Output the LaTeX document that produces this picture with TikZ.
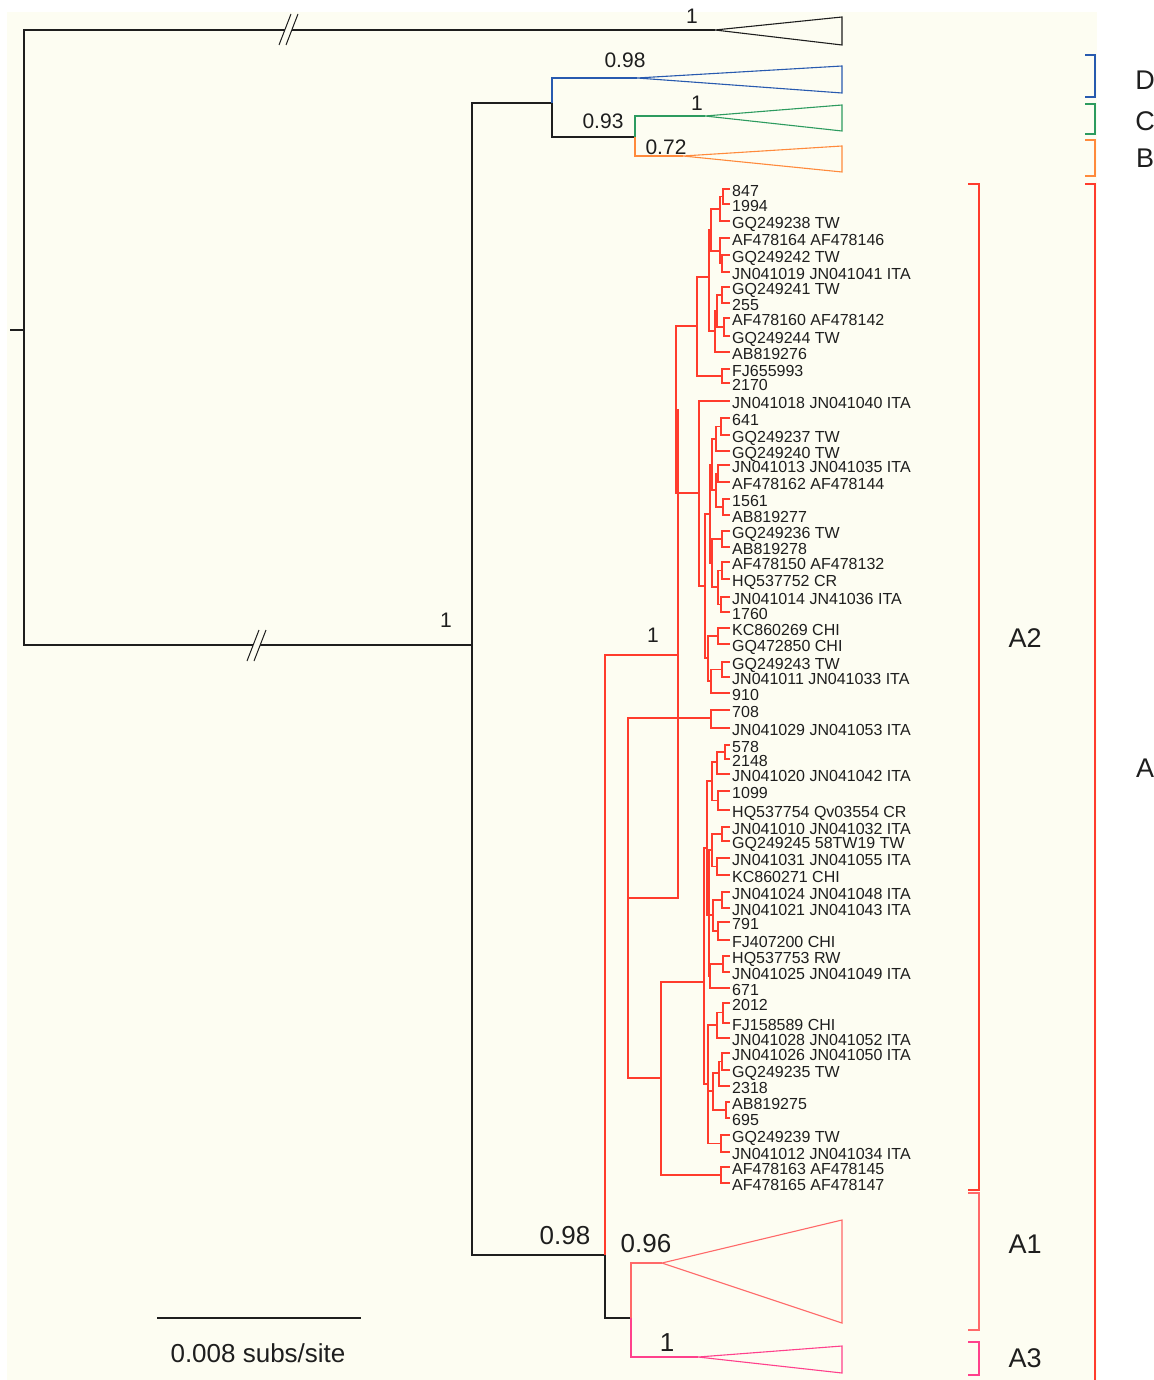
\documentclass[tikz,border=0pt]{standalone}
\usepackage{fontspec}
\setmainfont{Liberation Sans}
\usepackage{tikz}

\definecolor{bgcream}{RGB}{253,253,242}
\definecolor{treeblack}{RGB}{30,30,30}
\definecolor{cladeblue}{RGB}{40,90,175}
\definecolor{cladegreen}{RGB}{45,155,95}
\definecolor{cladeorange}{RGB}{255,138,60}
\definecolor{treered}{RGB}{255,60,45}
\definecolor{cladesalmon}{RGB}{255,105,105}
\definecolor{cladepink}{RGB}{255,65,140}

\tikzset{
  tree/.style={line width=1.2pt, draw=treeblack},
  redtree/.style={line width=1.2pt, draw=treered},
  leaf/.style={anchor=west, inner xsep=2pt, inner ysep=0pt, text height=14.5pt,
    text depth=0pt, font=\fontsize{16}{17}\selectfont, text=treeblack},
  support/.style={font=\fontsize{21}{22}\selectfont, text=treeblack},
  bigsupport/.style={font=\fontsize{26}{28}\selectfont, text=treeblack},
  cladelabel/.style={font=\fontsize{27}{28}\selectfont, text=treeblack},
  bracket/.style={line width=1.3pt}
}

\begin{document}
\begin{tikzpicture}[x=1pt, y=-1pt]
\useasboundingbox (0,0) rectangle (1153,1380);
\fill[bgcream] (7,12) rectangle (1097,1380);

% taxa of clade A2
\foreach \y/\name [count=\i] in {
  189/847, 204/1994, 221/GQ249238 TW, 238/AF478164 AF478146, 255/GQ249242 TW,
  272/JN041019 JN041041 ITA, 287/GQ249241 TW, 303/255, 318/AF478160 AF478142,
  336/GQ249244 TW, 352/AB819276, 369/FJ655993, 383/2170,
  401/JN041018 JN041040 ITA, 418/641, 435/GQ249237 TW, 451/GQ249240 TW,
  465/JN041013 JN041035 ITA, 482/AF478162 AF478144, 499/1561, 515/AB819277,
  531/GQ249236 TW, 547/AB819278, 562/AF478150 AF478132, 579/HQ537752 CR,
  597/JN041014 JN41036 ITA, 612/1760, 628/KC860269 CHI, 644/GQ472850 CHI,
  662/GQ249243 TW, 677/JN041011 JN041033 ITA, 693/910, 710/708,
  728/JN041029 JN041053 ITA, 745/578, 759/2148, 774/JN041020 JN041042 ITA,
  791/1099, 810/HQ537754 Qv03554 CR, 827/JN041010 JN041032 ITA,
  841/GQ249245 58TW19 TW, 858/JN041031 JN041055 ITA, 875/KC860271 CHI,
  892/JN041024 JN041048 ITA, 908/JN041021 JN041043 ITA, 922/791,
  940/FJ407200 CHI, 956/HQ537753 RW, 972/JN041025 JN041049 ITA, 988/671,
  1003/2012, 1023/FJ158589 CHI, 1038/JN041028 JN041052 ITA,
  1053/JN041026 JN041050 ITA, 1070/GQ249235 TW, 1086/2318, 1102/AB819275,
  1118/695, 1135/GQ249239 TW, 1152/JN041012 JN041034 ITA,
  1167/AF478163 AF478145, 1183/AF478165 AF478147}
  \node[leaf] (l\i) at (730,\y) {\name};

% internal nodes
\coordinate (stem) at (10,330);
\coordinate (root) at (24,330);
\coordinate (outg) at (715,30);
\coordinate (big) at (472,645);
\coordinate (dcb) at (552,103);
\coordinate (cb) at (635,137);
\coordinate (cladeD) at (637,78);
\coordinate (cladeC) at (705,116);
\coordinate (cladeB) at (683,156);
\coordinate (aroot) at (605,1255);
\coordinate (a13) at (631,1318);
\coordinate (cladeA1) at (662,1263);
\coordinate (cladeA3) at (698,1357);

\coordinate (a1) at (723,196.5);
\coordinate (a2) at (720,209);
\coordinate (a3) at (722,263.5);
\coordinate (a4) at (720,251);
\coordinate (a5) at (711,230);
\coordinate (a6) at (722,295);
\coordinate (a7) at (724,327);
\coordinate (a8) at (717,311);
\coordinate (a9) at (715,331);
\coordinate (a10) at (709,277);
\coordinate (a11) at (722,376);
\coordinate (a12) at (697,326);
\coordinate (d1) at (721,426.5);
\coordinate (d2) at (716,439);
\coordinate (d3) at (718,473.5);
\coordinate (d4) at (723,507);
\coordinate (d5) at (716,490);
\coordinate (d6) at (722,539);
\coordinate (d7) at (722,570.5);
\coordinate (d8) at (721,604.5);
\coordinate (d9) at (718,587);
\coordinate (d10) at (712,465);
\coordinate (d11) at (712,563);
\coordinate (d12) at (710,514);
\coordinate (e1) at (718,636);
\coordinate (e2) at (722,669.5);
\coordinate (e3) at (711,681);
\coordinate (e4) at (708,658);
\coordinate (e5) at (705,586);
\coordinate (e6) at (699,493);
\coordinate (q) at (676,410);
\coordinate (p) at (678,655);
\coordinate (g) at (628,898);
\coordinate (f1) at (711,718);
\coordinate (h) at (661,1078);
\coordinate (v) at (704,982);
\coordinate (w) at (721,1175);
\coordinate (g1) at (725,752);
\coordinate (g2) at (717,762);
\coordinate (g3) at (718,800.5);
\coordinate (g4) at (712,781);
\coordinate (g5) at (707,848);
\coordinate (h1) at (722,834);
\coordinate (h2) at (717,866.5);
\coordinate (h3) at (712,850);
\coordinate (h4) at (722,900);
\coordinate (h5) at (718,931);
\coordinate (h6) at (723,964);
\coordinate (h7) at (713,915);
\coordinate (h8) at (710,976);
\coordinate (h9) at (709,915);
\coordinate (k1) at (723,1012.5);
\coordinate (k2) at (717,1025);
\coordinate (k3) at (722,1061.5);
\coordinate (k4) at (719,1073);
\coordinate (k5) at (726,1110);
\coordinate (k6) at (713,1091);
\coordinate (k7) at (721,1143.5);
\coordinate (k8) at (708,1084);

% backbone
\draw[tree] (stem) -- (root);
\draw[tree] (root) |- (outg);
\draw[tree] (root) |- (big);
\draw[tree] (big) |- (dcb);
\draw[tree] (big) |- (aroot);
\draw[tree] (dcb) |- (cb);
\draw[tree] (aroot) |- (a13);
\draw[tree, draw=cladeblue] (dcb) |- (cladeD);
\draw[tree, draw=cladegreen] (cb) |- (cladeC);
\draw[tree, draw=cladeorange] (cb) |- (cladeB);
\draw[tree, draw=cladesalmon] (a13) |- (cladeA1);
\draw[tree, draw=cladepink] (a13) |- (cladeA3);

% clade A2
\foreach \p/\c in {a1/l1, a1/l2, a2/a1, a2/l3, a3/l5, a3/l6, a4/l4, a4/a3,
  a5/a2, a5/a4, a6/l7, a6/l8, a7/l9, a7/l10, a8/a6, a8/a7, a9/a8, a9/l11,
  a10/a5, a10/a9, a11/l12, a11/l13, a12/a10, a12/a11,
  d1/l15, d1/l16, d2/d1, d2/l17, d3/l18, d3/l19, d4/l20, d4/l21, d5/d3,
  d5/d4, d6/l22, d6/l23, d7/l24, d7/l25, d8/l26, d8/l27, d9/d7, d9/d8,
  d10/d2, d10/d5, d11/d6, d11/d9, d12/d10, d12/d11,
  e1/l28, e1/l29, e2/l30, e2/l31, e3/e2, e3/l32, e4/e1, e4/e3, e5/d12,
  e5/e4, e6/l14, e6/e5, q/a12, q/e6, p/q, p/g,
  g/f1, g/h, f1/l33, f1/l34, h/v, h/w, v/g5, v/k8,
  g1/l35, g1/l36, g2/g1, g2/l37, g3/l38, g3/l39, g4/g2, g4/g3,
  h1/l40, h1/l41, h2/l42, h2/l43, h3/h1, h3/h2, h4/l44, h4/l45, h5/l46,
  h5/l47, h6/l48, h6/l49, h7/h4, h7/h5, h8/h6, h8/l50, h9/h3, h9/h7,
  h9/h8, g5/g4, g5/h9,
  k1/l51, k1/l52, k2/k1, k2/l53, k3/l54, k3/l55, k4/k3, k4/l56, k5/l57,
  k5/l58, k6/k4, k6/k5, k7/l59, k7/l60, k8/k2, k8/k6, k8/k7,
  w/l61, w/l62, aroot/p}
  \draw[redtree] (\p) |- (\c);

% collapsed clades
\draw[line width=1.1pt, treeblack] (outg) -- (842,17) -- (842,45) -- cycle;
\draw[line width=1.1pt, cladeblue] (cladeD) -- (842,66) -- (842,93) -- cycle;
\draw[line width=1.1pt, cladegreen] (cladeC) -- (842,105) -- (842,131) -- cycle;
\draw[line width=1.1pt, cladeorange] (cladeB) -- (842,146) -- (842,172) -- cycle;
\draw[line width=1.1pt, cladesalmon] (cladeA1) -- (842,1220) -- (842,1323) -- cycle;
\draw[line width=1.1pt, cladepink] (cladeA3) -- (842,1346) -- (842,1373) -- cycle;

% breaks
\fill[bgcream] (279,45) -- (286,45) -- (298,14) -- (291,14) -- cycle;
\draw[line width=1pt, treeblack] (279,45) -- (291,14) (286,45) -- (298,14);
\fill[bgcream] (247,661) -- (254,661) -- (266,630) -- (259,630) -- cycle;
\draw[line width=1pt, treeblack] (247,661) -- (259,630) (254,661) -- (266,630);

% support values
\node[support] (s1) at (692,16) {1};
\node[support] (s2) at (625,60) {0.98};
\node[support] (s3) at (697,103) {1};
\node[support] (s4) at (603,121) {0.93};
\node[support] (s5) at (666,147) {0.72};
\node[support] (s6) at (446,620) {1};
\node[support] (s7) at (653,635) {1};
\node[bigsupport] (s8) at (565,1236) {0.98};
\node[bigsupport] (s9) at (646,1244) {0.96};
\node[bigsupport] (s10) at (667,1343) {1};

% brackets
\draw[bracket, treered] (968,184) -- (979,184) -- (979,1190) -- (968,1190);
\draw[bracket, cladesalmon] (968,1193) -- (979,1193) -- (979,1330) -- (968,1330);
\draw[bracket, cladepink] (968,1342) -- (979,1342) -- (979,1375) -- (968,1375);
\draw[bracket, cladeblue] (1085,55) -- (1095,55) -- (1095,97) -- (1085,97);
\draw[bracket, cladegreen] (1085,104) -- (1095,104) -- (1095,134) -- (1085,134);
\draw[bracket, cladeorange] (1085,140) -- (1095,140) -- (1095,176) -- (1085,176);
\draw[bracket, treered] (1085,184) -- (1095,184) -- (1095,1380);
\node[cladelabel] (labA2) at (1025,638) {A2};
\node[cladelabel] (labA1) at (1025,1244) {A1};
\node[cladelabel] (labA3) at (1025,1358) {A3};
\node[cladelabel] (labD) at (1145,80) {D};
\node[cladelabel] (labC) at (1145,121) {C};
\node[cladelabel] (labB) at (1145,158) {B};
\node[cladelabel] (labA) at (1145,768) {A};

% scale bar
\draw[line width=1.3pt, treeblack] (157,1318) coordinate (sb1) -- (361,1318) coordinate (sb2);
\node[bigsupport] (sbtext) at (258,1353) {0.008 subs/site};
\end{tikzpicture}
\end{document}
